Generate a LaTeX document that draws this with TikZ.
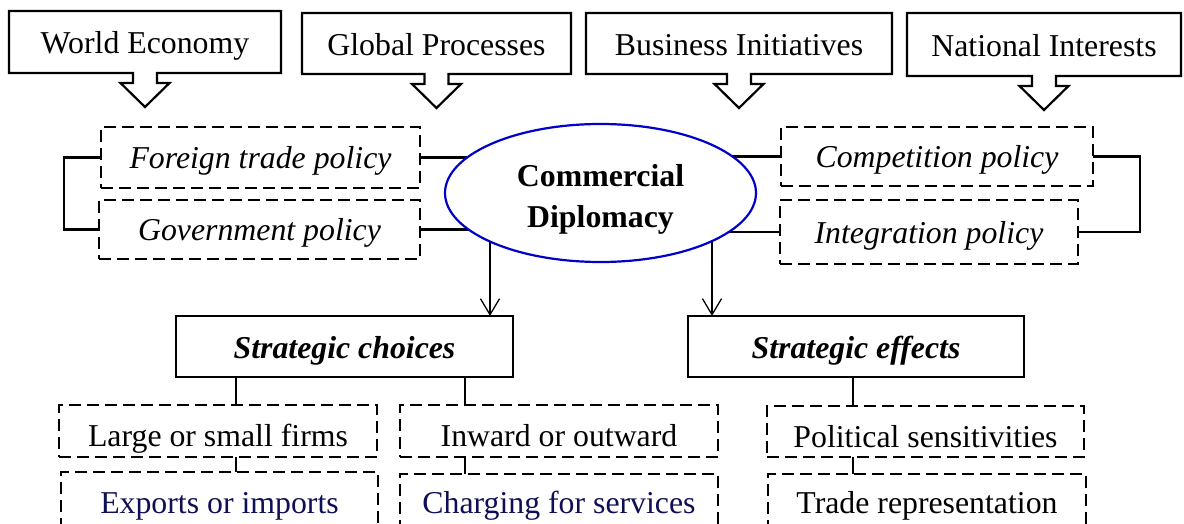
\documentclass[tikz,border=0pt]{standalone}
\usepackage{fontspec}
\setmainfont{Liberation Serif}
\usetikzlibrary{shapes.geometric,arrows.meta,backgrounds,calc}
\definecolor{ellblue}{RGB}{0,0,200}
\definecolor{navy}{RGB}{15,15,85}
\begin{document}
\begin{tikzpicture}[x=1pt,y=-1pt,
  base/.style={inner sep=0pt, outer sep=0pt, font=\fontsize{31.8}{38}\selectfont},
  topbox/.style={base, text height=24pt, text depth=0pt},
  polbox/.style={base, draw, dash pattern=on 12pt off 6pt, line width=2.2pt, font=\fontsize{31.8}{38}\selectfont\itshape, text height=24pt, text depth=2pt},
  stratbox/.style={base, draw, line width=2.2pt, font=\fontsize{31.8}{38}\selectfont\bfseries\itshape, text height=24pt, text depth=1pt},
  leafbox/.style={base, draw, dash pattern=on 12pt off 6pt, line width=2.2pt, text height=34pt, text depth=3pt},
  link/.style={line width=1.3pt},
  brace/.style={line width=2.2pt},
  arr/.style={line width=1.3pt, -{Straight Barb[length=16pt,width=19pt]}},
  callout/.style={line width=2.2pt, line join=miter}
]
\useasboundingbox (0,0) rectangle (1184,524);

% top callout boxes
\node[topbox, minimum width=272pt, minimum height=62pt] (we) at (145,42) {World Economy};
\node[topbox, minimum width=269pt, minimum height=61pt] (gp) at (436.5,43.5) {Global Processes};
\node[topbox, minimum width=306pt, minimum height=61pt] (bi) at (739,43.5) {Business Initiatives};
\node[topbox, minimum width=274pt, minimum height=63pt] (ni) at (1044,44.5) {National Interests};
\foreach \n in {we,gp,bi,ni}
  \draw[callout] (\n.north west) -- (\n.north east) -- (\n.south east)
    -- ([xshift=12pt]\n.south) -- ++(0,10) -- ++(12.5,0) -- ++(-24.5,24)
    -- ++(-24.5,-24) -- ++(12.5,0) -- ++(0,-10) -- (\n.south west) -- cycle;

% central ellipse
\node[base, draw=ellblue, line width=2.2pt, fill=white, ellipse, minimum width=311pt, minimum height=138pt] (cd) at (600.5,193) {};
\node[base, font=\fontsize{31.8}{41}\selectfont\bfseries, align=center] (cdt) at (600.5,199) {Commercial\\Diplomacy};

% policy boxes
\node[polbox, minimum width=319pt, minimum height=61pt] (ftp) at (260.5,157.5) {Foreign trade policy};
\node[polbox, minimum width=321pt, minimum height=59pt] (gov) at (259.5,229.5) {Government policy};
\node[polbox, minimum width=312pt, minimum height=59pt] (comp) at (937,156.5) {Competition policy};
\node[polbox, minimum width=298pt, minimum height=64pt] (integ) at (929,232) {Integration policy};

\draw[brace] (ftp.west) -- ++(-37,0) |- (gov.west);
\draw[brace] (comp.east) -- ++(47,0) |- (integ.east);

% strategic boxes
\node[stratbox, minimum width=337pt, minimum height=61pt] (sc) at (344.5,346.5) {Strategic choices};
\node[stratbox, minimum width=336pt, minimum height=61pt] (se) at (856,346.5) {Strategic effects};

\coordinate (a1) at ([xshift=145.5pt]sc.north);
\coordinate (a2) at ([xshift=-144pt]se.north);

\begin{scope}[on background layer]
  \draw[brace] (ftp.east) -- (ftp.east -| cd.center);
  \draw[brace] (gov.east) -- (gov.east -| cd.center);
  \draw[brace] (comp.west) -- (comp.west -| cd.center);
  \draw[brace] (integ.west) -- (integ.west -| cd.center);
  \draw[arr] (cd.center -| a1) -- (a1);
  \draw[arr] (cd.center -| a2) -- (a2);
\end{scope}

% leaf boxes
\node[leafbox, minimum width=318pt, minimum height=52pt] (lsf) at (218,431) {Large or small firms};
\node[leafbox, minimum width=318pt, minimum height=52pt] (inw) at (559,431) {Inward or outward};
\node[leafbox, minimum width=317pt, minimum height=51pt] (pol) at (925.5,431.5) {Political sensitivities};
\node[leafbox, text=navy, minimum width=317pt, minimum height=58pt, text height=27pt] (exp) at (219.5,501) {Exports or imports};
\node[leafbox, text=navy, minimum width=318pt, minimum height=56pt, text height=26pt] (chg) at (559,502) {Charging for services};
\node[leafbox, minimum width=318pt, minimum height=56pt, text height=26pt] (trd) at (927,502) {Trade representation};

\coordinate (c1) at ([xshift=18pt]lsf.north);
\coordinate (c2) at ([xshift=-94pt]inw.north);
\coordinate (c3) at ([xshift=-3pt]se.south);
\draw[link] (sc.south -| c1) -- (lsf.north -| c1);
\draw[link] (lsf.south -| c1) -- (exp.north -| c1);
\draw[link] (sc.south -| c2) -- (inw.north -| c2);
\draw[link] (inw.south -| c2) -- (chg.north -| c2);
\draw[link] (se.south -| c3) -- (pol.north -| c3);
\draw[link] (pol.south -| c3) -- (trd.north -| c3);
\end{tikzpicture}
\end{document}
